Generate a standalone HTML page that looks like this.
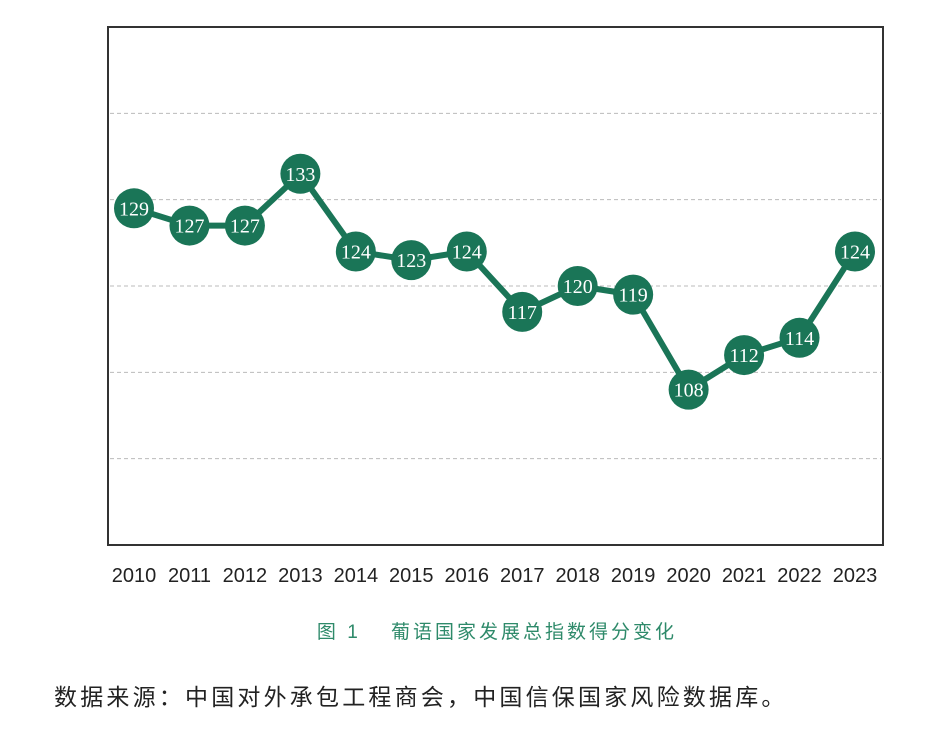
<!DOCTYPE html>
<html><head><meta charset="utf-8"><style>
body{margin:0;background:#fff;width:944px;height:744px;overflow:hidden;}
svg{position:absolute;left:0;top:0;}
</style></head><body>
<svg width="944" height="744">
<rect x="108" y="27" width="775" height="518" fill="none" stroke="#333" stroke-width="2"/>
<g id="grid"></g><g id="xl"></g><g id="series"></g>
<text x="497" y="638" text-anchor="middle" font-size="19" letter-spacing="3" fill="#2e8a6a" font-family="Liberation Sans,Noto Sans CJK SC,sans-serif">图 1　 葡语国家发展总指数得分变化</text>
<text x="54" y="705" font-size="23" letter-spacing="3.2" fill="#222" font-family="Liberation Sans,Noto Sans CJK SC,sans-serif">数据来源：中国对外承包工程商会，中国信保国家风险数据库。</text>
</svg>
<script>
const years=["2010","2011","2012","2013","2014","2015","2016","2017","2018","2019","2020","2021","2022","2023"];
const values=[129,127,127,133,124,123,124,117,120,119,108,112,114,124];
const gridTicks=[100,110,120,130,140];
const NS="http://www.w3.org/2000/svg";
function y(v){return 545-(v-90)*518/60;}
function x(i){return 134+i*(855-134)/13;}
function mk(t,a,p){const e=document.createElementNS(NS,t);for(const k in a)e.setAttribute(k,a[k]);p.appendChild(e);return e;}
const g=document.getElementById('grid');
gridTicks.forEach(v=>{const l=mk('line',{x1:110,x2:881,y1:y(v),y2:y(v),stroke:'#bbb','stroke-dasharray':'4,3','stroke-width':1},g);

});
const xl=document.getElementById('xl');
years.forEach((yr,i)=>{const t=mk('text',{x:x(i),y:582,'text-anchor':'middle','font-size':20,fill:'#222','font-family':'Liberation Sans,sans-serif'},xl);t.textContent=yr;

});
const s=document.getElementById('series');
const pl=mk('polyline',{points:values.map((v,i)=>x(i)+','+y(v)).join(' '),fill:'none',stroke:'#1a7557','stroke-width':6,'stroke-linejoin':'round'},s);


values.forEach((v,i)=>{const c=mk('circle',{cx:x(i),cy:y(v),r:20,fill:'#1a7557'},s);


const t=mk('text',{x:x(i),y:y(v)+7,'text-anchor':'middle','font-size':20,fill:'#fff','font-family':'Liberation Serif,serif'},s);t.textContent=v;

});
</script>
</body></html>
